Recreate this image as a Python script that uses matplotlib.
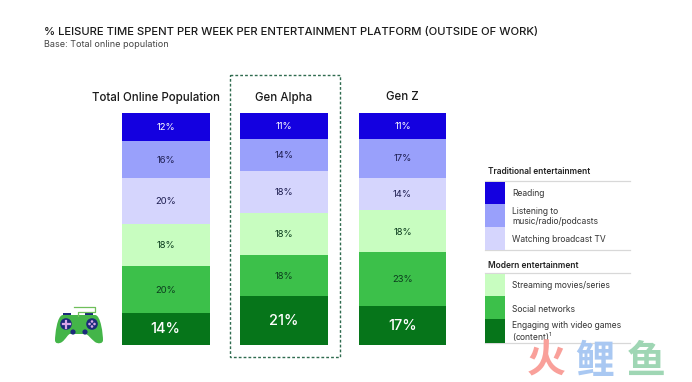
import matplotlib
matplotlib.use('Agg')
import matplotlib.pyplot as plt
from matplotlib.patches import Circle, PathPatch, Rectangle
from matplotlib.path import Path

W, H = 692, 382

plt.rcParams['mathtext.default'] = 'regular'
plt.rcParams['mathtext.fontset'] = 'custom'
plt.rcParams['mathtext.rm'] = 'Inter'

groups = ['Total Online Population', 'Gen Alpha', 'Gen Z']
# stacked from the bottom up
platforms = ['Engaging with video games', 'Social networks', 'Streaming movies/series',
             'Watching broadcast TV', 'Listening to music/radio/podcasts', 'Reading']
games = [14, 21, 17]
social = [20, 18, 23]
streaming = [18, 18, 18]
tv = [20, 18, 14]
audio = [16, 14, 17]
reading = [12, 11, 11]

series = [games, social, streaming, tv, audio, reading]
colors = ['#06751a', '#3cc04a', '#c8fdc0', '#d5d5fd', '#99a0fb', '#1400e0']
label_colors = ['white', '#0c3d1e', '#0c3d1e', '#1d1d50', '#1d1d50', 'white']
label_sizes = [10.5, 6.8, 6.8, 6.8, 6.8, 6.8]

FONT = 'Inter'


def bar_axes(fig):
    # pixel box of the plot: x -0.5..2.5 and y 0..100
    left, right, top, bottom = 106.5, 461.7, 113, 345
    ax = fig.add_axes([left / W, 1 - bottom / H, (right - left) / W, (bottom - top) / H])
    ax.set_xlim(-0.5, 2.5)
    ax.set_ylim(0, 100)
    ax.axis('off')
    return ax


def draw_bars(ax):
    base = [0, 0, 0]
    for vals, c, lc, fs in zip(series, colors, label_colors, label_sizes):
        ax.bar(range(3), vals, bottom=base, width=0.74, color=c, linewidth=0)
        for i, v in enumerate(vals):
            weight = 'medium' if fs > 8 else 'normal'
            ax.text(i, base[i] + v / 2 - 0.3, '%d%%' % v, color=lc, fontsize=fs, ha='center',
                    va='center', family=FONT, fontweight=weight)
        base = [b + v for b, v in zip(base, vals)]


def draw_legend(ax):
    swatches = [(182, 204, colors[5]), (204, 227, colors[4]), (227, 250, colors[3]),
                (274, 296, colors[2]), (296, 319, colors[1]), (319, 343, colors[0])]
    for y0, y1, c in swatches:
        ax.add_patch(Rectangle((485, y0), 20, y1 - y0, color=c, lw=0))
    for y in [181, 250, 273, 343]:
        ax.plot([485, 630], [y, y], color='#d8d8d8', lw=0.9, zorder=0)
    ax.text(488, 172, 'Traditional entertainment', fontsize=6, fontweight='semibold', color='#222222', va='center', family=FONT)
    ax.text(488, 265, 'Modern entertainment', fontsize=6, fontweight='semibold', color='#222222', va='center', family=FONT)
    rows = [(193.5, 'Reading'), (216.5, 'Listening to\nmusic/radio/podcasts'), (240, 'Watching broadcast TV'),
            (286, 'Streaming movies/series'), (309, 'Social networks'),
            (332.5, 'Engaging with video games\n(content)$^{1}$')]
    for y, t in rows:
        ax.text(512, y, t, fontsize=6.1, color='#333333', va='center', family=FONT, linespacing=1.1)


def draw_gamepad(ax):
    green = '#44b549'
    navy = '#1b2a7a'
    ax.plot([74, 95, 95, 78, 78], [307, 307, 312, 312, 316], color='#6fbf5a', lw=0.9)
    ax.add_patch(Rectangle((63, 313), 8, 2.5, color=navy, lw=0))
    ax.add_patch(Rectangle((85, 313), 8, 2.5, color=navy, lw=0))
    verts = [(63, 315), (79, 315), (95, 315),
             (101, 315), (103, 335), (103, 340),
             (103, 344), (98, 344), (95, 342),
             (90, 338), (88, 334), (85, 334),
             (79, 334), (73, 334), (70, 334),
             (68, 334), (66, 339), (62, 342),
             (59, 344), (55, 344), (55, 340),
             (55, 335), (57, 315), (63, 315)]
    codes = [Path.MOVETO] + [Path.CURVE4] * 23
    codes[1] = codes[2] = Path.LINETO
    ax.add_patch(PathPatch(Path(verts, codes), fc=green, ec='none'))
    for x in [66, 92]:
        ax.add_patch(Circle((x, 324), 5.8, color=navy, lw=0))
    ax.plot([62.5, 69.5], [324, 324], color='#d9a6e8', lw=1.6)
    ax.plot([66, 66], [320.5, 327.5], color='#d9a6e8', lw=1.6)
    for dx, dy in [(-2.5, 0), (2.5, 0), (0, -2.5), (0, 2.5)]:
        ax.add_patch(Circle((92 + dx, 324 + dy), 1.3, color='#d9a6e8', lw=0))
    for x in [73, 85]:
        ax.add_patch(Circle((x, 332), 2.6, color=navy, lw=0))


def plot_chart():
    fig = plt.figure(figsize=(W / 100, H / 100), dpi=100)
    draw_bars(bar_axes(fig))

    # overlay in pixel coordinates for the text and the decorations
    ov = fig.add_axes([0, 0, 1, 1], zorder=3)
    ov.set_xlim(0, W)
    ov.set_ylim(H, 0)
    ov.axis('off')
    ov.patch.set_alpha(0)

    ov.text(44, 32, '% LEISURE TIME SPENT PER WEEK PER ENTERTAINMENT PLATFORM (OUTSIDE OF WORK)',
            fontsize=8.1, fontweight='medium', color='#1a1a1a', va='center', family=FONT)
    ov.text(44, 44.5, 'Base: Total online population', fontsize=6.5, color='#444444', va='center', family=FONT)

    for x, g in zip([156, 283.5, 402], groups):
        ov.text(x, 97.5, g, fontsize=8.3, fontweight='medium', color='#1a1a1a', ha='center', va='center', family=FONT)

    ov.add_patch(Rectangle((229.5, 75), 110, 282, fill=False, ec='#2f6b4f', lw=1, ls=(0, (2, 1.5))))

    draw_legend(ov)
    draw_gamepad(ov)

    # site watermark in the bottom right corner
    for x, t, c in [(546, '火', '#f9a09a'), (595, '鲤', '#a9c8f2'), (646, '鱼', '#9fd6b4')]:
        ov.text(x, 361, t, fontsize=28, fontweight='bold', color=c, ha='center', va='center',
                family=['Noto Sans CJK SC', 'DejaVu Sans'])

    fig.savefig('out.png', dpi=100)


if __name__ == '__main__':
    plot_chart()
